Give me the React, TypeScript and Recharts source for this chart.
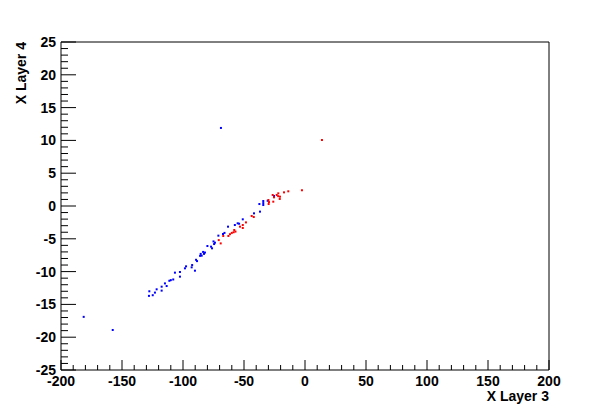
import { ScatterChart, Scatter, XAxis, YAxis, ReferenceArea } from "recharts";

// layer 3 vs layer 4 hits
const bluePoints: [number, number][] = [
  [-68.9, 11.9], [-181.4, -16.9], [-157.6, -18.9],
  [-25.4, 1.52], [-30.6, 0.8], [-34.2, 0.76], [-34.2, 0.15], [-34.2, 0.45],
  [-37.4, 0.3], [-36.9, -0.86], [-41.8, -1.12], [-51, -2.03], [-55.2, -2.64],
  [-57.5, -2.9], [-54, -2.7], [-63.1, -3.15], [-67.2, -4.27], [-66, -4.1],
  [-71, -4.52], [-73.8, -5.59], [-75, -5.4], [-74.5, -5.8], [-76.2, -6.45],
  [-77, -6.2], [-80, -6.1], [-82.8, -7.3], [-84.7, -7.57], [-83.5, -7.0],
  [-82, -7.1], [-86, -7.6], [-85.5, -7.3], [-89.3, -8.2], [-88.5, -8.4],
  [-92.9, -9.35], [-92.5, -9.0], [-98.4, -9.5], [-97.5, -9.2],
  [-90.2, -9.86], [-102.5, -10.06], [-106.6, -10.16], [-102.5, -10.77],
  [-108, -11.2], [-111.2, -11.4], [-110, -11.3], [-114.8, -11.8],
  [-113.4, -12.2], [-117.5, -12.3], [-121.6, -12.7], [-117.5, -12.9],
  [-123, -13.2], [-127.6, -13.0], [-127.9, -13.7], [-124.8, -13.6],
];
const redPoints: [number, number][] = [
  [13.9, 10.06], [-2.5, 2.4], [-13.7, 2.24], [-17.2, 2.08], [-21.9, 1.93],
  [-23.2, 1.68], [-20.5, 1.42], [-22, 1.5], [-25.4, 1.32], [-26.5, 1.68],
  [-20.7, 1.07], [-30, 0.91], [-29.8, 0.3], [-29.5, 0.6], [-26, 0.66],
  [-43.7, -1.52], [-42, -1.68], [-48.4, -2.5], [-51, -2.9], [-53.3, -3.15],
  [-51, -3.35], [-58, -3.66], [-57, -3.9], [-58.5, -4.0], [-61.5, -4.3],
  [-62.8, -4.57], [-67, -4.57], [-69.1, -5.7], [-70.7, -5.2], [-60, -4.1],
];

const xMajor = [-200, -150, -100, -50, 0, 50, 100, 150, 200];
const yMajor = [-25, -20, -15, -10, -5, 0, 5, 10, 15, 20, 25];
const xTicks = Array.from({ length: 41 }, (_, i) => -200 + i * 10);
const yTicks = Array.from({ length: 51 }, (_, i) => -25 + i);

const blue = bluePoints.map(([x, y]) => ({ x, y }));
const red = redPoints.map(([x, y]) => ({ x, y }));

const font = "'Liberation Sans', Arial, sans-serif";

function XTick(props: any) {
  const { x, y, payload } = props;
  const v = payload.value;
  const major = xMajor.includes(v);
  return (
    <g>
      <line x1={x} x2={x} y1={y} y2={y - (major ? 10 : 5)} stroke="#000" />
      {major && (
        <text x={x} y={y + 16} textAnchor="middle" fontSize={14} fontWeight="bold" fontFamily={font} fill="#000">
          {v}
        </text>
      )}
    </g>
  );
}

function YTick(props: any) {
  const { x, y, payload } = props;
  const v = payload.value;
  const major = yMajor.includes(v);
  return (
    <g>
      <line x1={x} x2={x + (major ? 15 : 7)} y1={y} y2={y} stroke="#000" />
      {major && (
        <text x={x - 5} y={y + 5} textAnchor="end" fontSize={14} fontWeight="bold" fontFamily={font} fill="#000">
          {v}
        </text>
      )}
    </g>
  );
}

function Dot(props: any) {
  const { cx, cy, fill } = props;
  return <rect x={cx - 1} y={cy - 1} width={2} height={2} fill={fill} />;
}

export default function App() {
  return (
    <div style={{ position: "absolute", left: 0, top: 0, background: "#fff" }}>
      <ScatterChart width={612} height={412} margin={{ top: 42, right: 63, bottom: 0, left: 0 }}>
        <XAxis
          type="number"
          dataKey="x"
          domain={[-200, 200]}
          ticks={xTicks}
          interval={0}
          tickSize={0}
          tickMargin={0}
          tickLine={false}
          axisLine={false}
          height={42}
          tick={<XTick />}
          label={(p: any) => (
            <text
              x={p.viewBox.x + p.viewBox.width}
              y={p.viewBox.y + 31}
              textAnchor="end"
              fontSize={14}
              fontWeight="bold"
              fontFamily={font}
              fill="#000"
            >
              X Layer 3
            </text>
          )}
        />
        <YAxis
          type="number"
          dataKey="y"
          domain={[-25, 25]}
          ticks={yTicks}
          interval={0}
          tickSize={0}
          tickMargin={0}
          tickLine={false}
          axisLine={false}
          width={61}
          tick={<YTick />}
          label={() => (
            <text
              x={26}
              y={42}
              transform="rotate(-90, 26, 42)"
              textAnchor="end"
              fontSize={14}
              fontWeight="bold"
              fontFamily={font}
              fill="#000"
            >
              X Layer 4
            </text>
          )}
        />
        <ReferenceArea x1={-200} x2={200} y1={-25} y2={25} fill="none" stroke="#000" strokeWidth={1} />
        <Scatter data={blue} fill="#0000ff" shape={<Dot />} isAnimationActive={false} />
        <Scatter data={red} fill="#ff0000" shape={<Dot />} isAnimationActive={false} />
      </ScatterChart>
    </div>
  );
}
